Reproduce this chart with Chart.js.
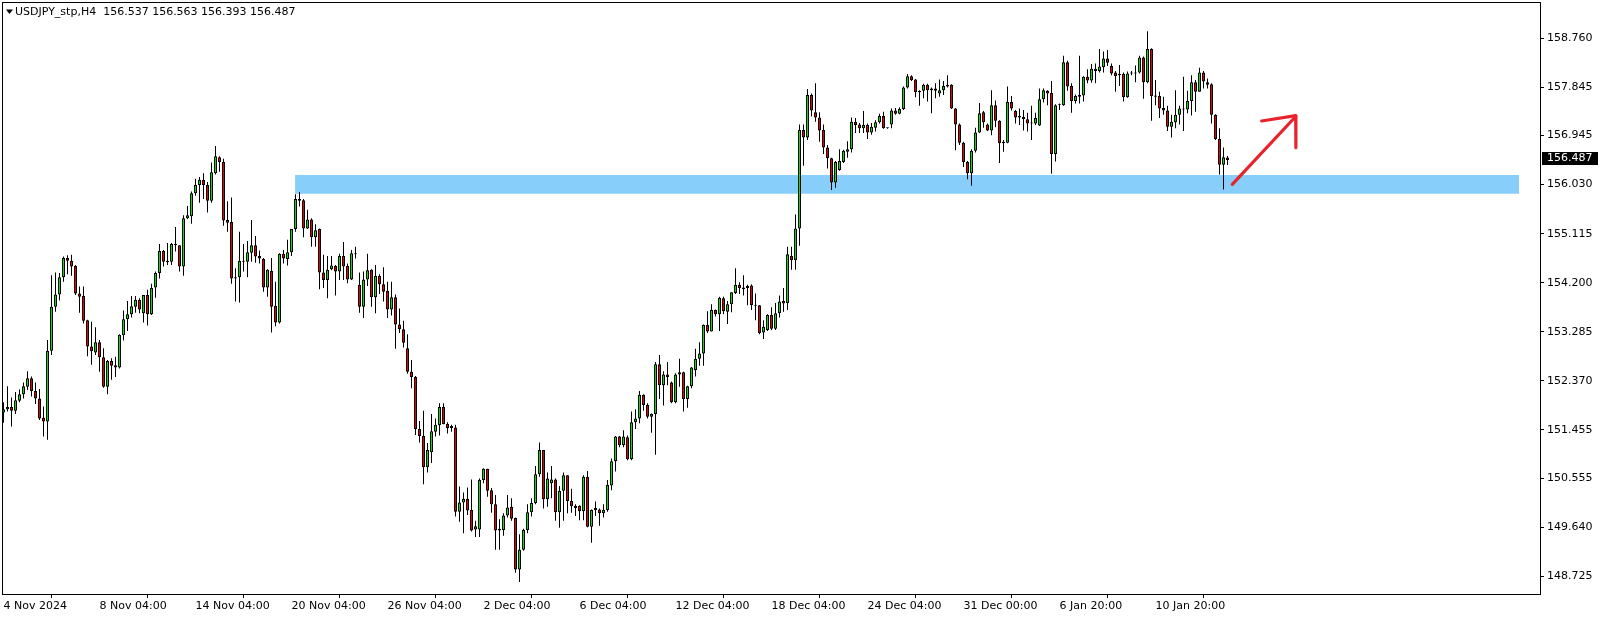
<!DOCTYPE html>
<html><head><meta charset="utf-8">
<script src="https://cdn.jsdelivr.net/npm/chart.js@4.4.1/dist/chart.umd.min.js"></script>
<style>html,body{margin:0;padding:0;background:#fff;overflow:hidden}canvas{display:block}</style>
</head><body>
<canvas id="c" width="1604" height="619"></canvas>
<script>
const symbolName = 'USDJPY_stp,H4';
const opens = [
151.78,151.84,151.88,151.81,152.00,152.12,152.26,152.42,152.18,152.04,
151.68,151.61,152.93,153.75,153.98,154.30,154.66,154.61,154.51,154.00,
153.95,153.50,153.01,152.90,153.09,152.81,152.26,152.74,152.66,152.62,
153.22,153.52,153.61,153.75,153.88,153.63,153.97,153.61,154.11,154.38,
154.79,154.61,154.59,154.92,154.90,154.50,155.40,155.44,155.87,156.02,
156.12,156.02,155.73,156.24,156.54,156.45,155.37,155.33,154.30,154.30,
154.59,154.59,154.76,154.90,154.70,154.64,154.11,154.42,153.77,153.46,
154.74,154.64,154.77,155.20,155.76,155.74,155.21,155.38,155.05,155.20,
154.39,154.25,154.45,154.51,154.41,154.70,154.51,154.26,154.75,154.16,
153.75,154.26,154.44,153.93,154.33,154.17,154.05,153.70,153.93,153.42,
153.33,152.98,152.54,152.44,151.47,151.34,150.76,151.04,151.42,151.54,
151.88,151.57,151.49,151.50,149.93,150.10,150.17,149.96,149.60,149.60,
150.52,150.73,150.33,150.07,149.58,149.59,149.86,150.02,149.81,148.85,
149.22,149.59,149.92,150.09,150.63,151.08,150.16,150.46,150.53,149.92,
150.32,150.61,150.13,150.04,150.04,149.94,150.58,149.65,149.96,149.97,
149.90,149.96,150.42,150.87,151.33,151.17,151.32,150.91,151.60,151.67,
152.11,151.92,151.70,151.75,152.68,152.29,152.49,152.34,151.97,152.49,
152.53,152.03,152.27,152.57,152.78,152.88,153.41,153.29,153.69,153.61,
153.91,153.66,153.80,154.01,154.16,154.08,154.10,154.15,153.78,153.78,
153.27,153.32,153.60,153.34,153.63,153.86,153.82,154.70,154.62,155.21,
157.05,156.91,157.70,157.38,157.28,157.05,156.72,156.52,156.07,156.30,
156.45,156.64,156.69,157.20,157.15,157.08,157.14,157.00,157.09,157.19,
157.31,157.08,157.15,157.41,157.35,157.44,157.84,158.05,157.99,157.78,
157.78,157.89,157.82,157.82,157.73,157.79,157.89,157.89,157.45,157.15,
156.81,156.45,156.24,156.66,157.00,157.38,157.15,157.04,157.51,157.22,
156.83,156.81,157.57,157.40,157.31,157.29,157.25,157.17,157.17,157.13,
157.62,157.78,157.74,156.60,157.51,157.51,158.31,157.87,157.59,157.67,
157.69,158.04,157.97,158.15,158.15,158.22,158.38,158.24,158.12,158.09,
158.09,157.66,158.10,158.12,158.12,158.40,157.94,158.56,157.69,157.68,
157.46,157.41,157.11,157.19,157.33,157.45,157.43,157.59,157.94,157.76,
158.12,157.94,157.90,157.33,156.88,156.40,156.537];
const highs = [
151.97,152.27,152.06,152.16,152.21,152.34,152.55,152.45,152.34,152.22,
151.89,153.13,154.34,154.39,154.38,154.69,154.71,154.72,154.53,154.13,
154.13,153.51,153.47,153.37,153.13,152.98,152.76,152.79,152.82,153.24,
153.68,153.86,153.95,153.95,153.91,153.97,154.07,154.18,154.41,154.92,
154.81,154.94,154.94,155.24,154.90,155.46,155.63,155.90,156.14,156.17,
156.24,156.08,156.44,156.75,156.56,156.51,155.72,155.79,154.47,155.15,
154.92,154.98,155.37,155.07,154.80,154.66,154.45,154.66,154.22,154.75,
154.81,155.00,155.20,155.85,155.89,155.76,155.56,155.40,155.29,155.21,
154.72,154.70,154.70,154.53,154.74,154.96,154.56,154.81,154.87,154.39,
154.41,154.74,154.45,154.53,154.36,154.49,154.22,154.22,153.98,153.72,
153.49,153.24,152.76,152.46,151.62,151.81,151.21,151.75,151.67,151.95,
151.95,151.60,151.55,151.55,150.40,150.29,150.38,150.53,149.76,150.55,
150.74,150.73,150.37,150.24,149.79,149.90,150.24,150.18,149.82,149.51,
149.61,150.07,150.18,150.78,151.22,151.08,150.66,150.78,150.55,150.41,
150.66,150.61,150.36,150.07,150.05,150.61,150.69,149.97,150.12,149.99,
150.07,150.52,150.92,151.34,151.34,151.45,151.35,151.80,151.84,152.18,
152.12,151.95,151.76,152.72,152.85,152.55,152.72,152.36,152.51,152.78,
152.54,152.28,152.63,152.97,153.09,153.42,153.67,153.80,153.70,153.94,
153.94,153.86,154.02,154.47,154.21,154.34,154.16,154.17,154.00,153.78,
153.50,153.61,153.74,153.82,153.96,154.10,154.87,154.87,155.47,157.15,
157.15,157.81,157.73,157.92,157.38,157.15,156.77,156.53,156.47,156.69,
156.68,156.84,157.28,157.27,157.18,157.40,157.17,157.18,157.23,157.35,
157.39,157.09,157.45,157.46,157.47,157.86,158.09,158.07,158.00,157.79,
157.91,157.91,157.84,157.92,157.99,157.96,158.07,157.90,157.46,157.17,
156.83,156.47,156.69,157.09,157.55,157.40,157.17,157.79,157.60,157.23,
156.86,157.86,157.68,157.42,157.45,157.42,157.37,157.50,157.37,157.82,
157.82,157.79,157.96,157.53,157.54,158.43,158.34,157.92,157.71,158.43,
158.05,158.18,158.28,158.29,158.56,158.51,158.54,158.29,158.15,158.26,
158.12,158.14,158.15,158.25,158.43,158.42,158.89,158.57,157.98,157.76,
157.67,157.50,157.33,157.79,157.50,158.04,157.78,158.07,157.98,158.21,
158.15,158.01,157.92,157.34,157.08,156.72,156.563];
const lows = [
151.59,151.80,151.52,151.75,151.97,152.04,152.20,152.08,151.94,151.64,
151.33,151.27,152.85,153.66,153.87,154.22,154.36,154.33,153.97,153.64,
153.44,152.83,152.67,152.85,152.54,152.24,152.12,152.39,152.44,152.60,
153.12,153.30,153.55,153.64,153.63,153.46,153.40,153.60,153.92,154.28,
154.50,154.53,154.53,154.78,154.41,154.33,155.39,155.30,155.82,155.69,
155.76,155.51,155.69,156.22,156.27,155.26,155.15,154.18,153.85,153.83,
154.41,154.30,154.59,154.57,154.56,154.03,153.94,153.27,153.39,153.44,
154.56,154.52,154.70,155.15,155.62,155.05,155.20,154.87,154.87,154.08,
154.10,153.91,154.43,153.96,154.25,154.25,154.19,154.25,154.65,153.64,
153.54,154.14,153.75,153.63,153.99,153.85,153.54,153.59,152.97,153.26,
152.99,152.50,152.23,151.36,151.22,150.44,150.66,150.84,151.33,151.35,
151.56,151.39,151.42,149.84,149.74,149.53,149.87,149.56,149.46,149.46,
150.46,150.21,149.91,149.22,149.22,149.48,149.82,149.76,148.79,148.62,
149.20,149.53,149.84,150.07,150.58,149.99,150.02,150.18,149.76,149.63,
149.76,149.90,149.91,149.85,149.77,149.77,149.64,149.35,149.85,149.67,
149.82,149.93,150.33,150.68,151.13,151.13,150.89,150.89,151.47,151.58,
151.81,151.67,151.40,150.99,152.03,151.91,152.29,151.95,151.95,152.26,
151.80,151.87,152.23,152.45,152.65,152.65,153.26,153.29,153.57,153.30,
153.61,153.43,153.65,153.99,153.99,153.96,153.78,153.69,153.50,153.24,
153.15,153.30,153.32,153.32,153.55,153.66,153.69,154.44,154.44,154.89,
156.38,156.86,157.30,157.20,156.83,156.60,156.33,155.93,155.97,156.29,
156.43,156.53,156.63,156.99,156.99,156.99,156.88,156.96,157.02,157.17,
157.07,157.07,157.08,157.33,157.34,157.42,157.82,157.96,157.66,157.50,
157.64,157.58,157.36,157.64,157.67,157.70,157.84,157.44,156.67,156.77,
156.36,156.13,156.01,156.63,156.99,157.09,157.03,156.95,157.10,156.43,
156.64,156.80,157.41,157.17,157.14,157.04,157.02,156.86,157.14,157.12,
157.56,157.51,156.23,156.46,157.42,157.50,157.78,157.37,157.54,157.54,
157.58,157.92,157.93,157.92,158.12,158.12,158.24,158.07,157.76,157.87,
157.58,157.65,158.07,157.94,158.10,157.63,157.92,157.22,157.51,157.27,
157.33,157.03,156.91,157.08,157.15,157.03,157.36,157.32,157.39,157.76,
157.82,157.82,157.17,156.86,156.22,155.94,156.393];
const closes = [
151.84,151.88,151.81,152.01,152.12,152.27,152.42,152.18,152.04,151.67,
151.61,152.93,153.75,153.98,154.30,154.66,154.61,154.50,154.00,153.94,
153.49,153.01,152.92,153.09,152.81,152.26,152.74,152.65,152.62,153.23,
153.52,153.61,153.76,153.88,153.70,153.97,153.61,154.10,154.38,154.79,
154.59,154.58,154.92,154.90,154.50,155.40,155.46,155.87,156.02,156.12,
156.02,155.73,156.26,156.56,156.45,155.36,155.32,154.28,154.28,154.61,
154.61,154.77,154.90,154.69,154.65,154.11,154.44,153.75,153.46,154.74,
154.65,154.77,155.20,155.76,155.73,155.21,155.38,155.05,155.18,154.39,
154.25,154.44,154.52,154.41,154.70,154.50,154.26,154.75,154.73,153.75,
154.26,154.43,153.93,154.33,154.17,154.03,153.70,153.93,153.42,153.33,
153.08,152.54,152.44,151.47,151.34,150.76,151.08,151.43,151.55,151.88,
151.56,151.49,151.53,149.93,150.10,150.17,149.95,149.58,149.66,150.52,
150.73,150.32,150.07,149.58,149.61,149.86,150.01,149.80,148.85,149.22,
149.59,149.92,150.09,150.63,151.08,150.16,150.55,150.53,149.92,150.32,
150.61,150.13,150.03,150.00,149.94,150.58,149.65,149.96,150.00,149.90,
149.96,150.43,150.87,151.33,151.17,151.33,150.91,151.60,151.67,152.11,
151.92,151.70,151.75,152.68,152.29,152.49,152.44,151.97,152.49,152.53,
152.03,152.27,152.62,152.78,152.88,153.41,153.29,153.69,153.61,153.92,
153.67,153.80,154.02,154.16,154.10,154.11,154.14,153.78,153.77,153.26,
153.38,153.60,153.34,153.63,153.85,153.81,154.73,154.62,155.21,157.05,
156.91,157.70,157.41,157.28,157.04,156.72,156.52,156.07,156.45,156.47,
156.66,156.69,157.20,157.14,157.08,157.14,157.00,157.11,157.19,157.31,
157.08,157.08,157.41,157.35,157.44,157.84,158.05,157.98,157.75,157.75,
157.89,157.79,157.79,157.78,157.79,157.87,157.86,157.45,157.15,156.81,
156.45,156.24,156.66,157.00,157.36,157.19,157.04,157.51,157.22,156.80,
156.80,157.57,157.45,157.28,157.28,157.25,157.17,157.17,157.27,157.62,
157.79,157.73,156.60,157.51,157.51,158.31,157.86,157.59,157.68,157.70,
158.04,157.97,158.19,158.19,158.23,158.38,158.30,158.10,158.05,158.07,
157.66,158.10,158.10,158.10,158.40,157.94,158.56,157.68,157.67,157.45,
157.41,157.11,157.20,157.33,157.45,157.43,157.59,157.94,157.76,158.12,
157.95,157.89,157.33,156.88,156.40,156.54,156.487];

const xTickIndex = [0,24,48,72,96,120,144,168,192,216,240,264,288];
const xTickLabels = ['4 Nov 2024','8 Nov 04:00','14 Nov 04:00','20 Nov 04:00','26 Nov 04:00','2 Dec 04:00','6 Dec 04:00','12 Dec 04:00','18 Dec 04:00','24 Dec 04:00','31 Dec 00:00','6 Jan 20:00','10 Jan 20:00'];
const yTickValues = [158.760,157.845,156.945,156.030,155.115,154.200,153.285,152.370,151.455,150.555,149.640,148.725];

const zoneBars = [72.9, 378.9];
const zonePrices = [156.21, 155.86];
const arrowShaft = [[307.2,156.035],[323.05,157.30]];
const arrowHead = [[314.55,157.216],[323.05,157.315],[323.1,156.719]];

const UP = '#00e600', DOWN = '#e60000', ZONE = '#87cefa', ARROW = '#e8232b';
const FONT = '"DejaVu Sans", Verdana, sans-serif';
Chart.defaults.font.family = FONT;
Chart.defaults.font.size = 11;
Chart.defaults.color = '#000';

const idx = closes.map((_, i) => i);
const pts = arr => arr.map(p => ({x: p[0], y: p[1]}));

const framePlugin = {
  id: 'frame',
  afterDraw(chart) {
    const {ctx, chartArea: a} = chart;
    ctx.save();
    ctx.strokeStyle = '#000';
    ctx.lineWidth = 1;
    ctx.strokeRect(a.left - 0.5, a.top - 0.5, a.right - a.left + 1, a.bottom - a.top + 1);
    ctx.restore();
  }
};
const titlePlugin = {
  id: 'titleText',
  afterDraw(chart) {
    const {ctx, chartArea: a} = chart;
    const L = closes.length - 1;
    const txt = symbolName + '  ' + [opens[L], highs[L], lows[L], closes[L]].map(v => v.toFixed(3)).join(' ');
    ctx.save();
    ctx.fillStyle = '#000';
    ctx.beginPath();
    ctx.moveTo(a.left + 3, a.top + 6.5);
    ctx.lineTo(a.left + 10, a.top + 6.5);
    ctx.lineTo(a.left + 6.5, a.top + 11);
    ctx.closePath();
    ctx.fill();
    ctx.font = '11px ' + FONT;
    ctx.textBaseline = 'middle';
    ctx.textAlign = 'left';
    ctx.fillText(txt, a.left + 12, a.top + 9.5);
    ctx.restore();
  }
};
const priceTagPlugin = {
  id: 'priceTag',
  afterDraw(chart) {
    const {ctx, chartArea: a} = chart;
    const y = chart.scales.y;
    const v = closes[closes.length - 1];
    const py = Math.round(y.getPixelForValue(v));
    ctx.save();
    ctx.fillStyle = '#000';
    ctx.fillRect(a.right + 2, py - 8, 56, 13);
    ctx.fillStyle = '#fff';
    ctx.font = '11px ' + FONT;
    ctx.textBaseline = 'middle';
    ctx.textAlign = 'left';
    ctx.fillText(v.toFixed(3), a.right + 7, py - 1.5);
    ctx.restore();
  }
};

new Chart(document.getElementById('c'), {
  type: 'bar',
  data: {
    datasets: [
      {
        type: 'bar',
        data: idx.map(i => ({x: i, y: [lows[i], highs[i]]})),
        backgroundColor: '#000', borderWidth: 0, barThickness: 1,
        grouped: false, inflateAmount: 0, order: 2
      },
      {
        type: 'bar',
        data: idx.map(i => ({x: i, y: [opens[i], closes[i]]})),
        backgroundColor: idx.map(i => closes[i] >= opens[i] ? UP : DOWN),
        borderColor: '#000', borderWidth: 1, borderSkipped: false,
        barThickness: 3, grouped: false, minBarLength: 1, inflateAmount: 0, order: 1
      },
      {
        type: 'line',
        data: zoneBars.map(x => ({x, y: zonePrices[0]})),
        borderColor: 'rgba(0,0,0,0)', borderWidth: 0, pointRadius: 0,
        backgroundColor: ZONE, fill: '+1', order: 5
      },
      {
        type: 'line',
        data: zoneBars.map(x => ({x, y: zonePrices[1]})),
        borderColor: 'rgba(0,0,0,0)', borderWidth: 0, pointRadius: 0,
        fill: false, order: 6
      },
      {
        type: 'line', data: pts(arrowShaft),
        borderColor: ARROW, borderWidth: 3.2, pointRadius: 0, fill: false,
        borderCapStyle: 'round', borderJoinStyle: 'round', order: 0
      },
      {
        type: 'line', data: pts(arrowHead),
        borderColor: ARROW, borderWidth: 3.2, pointRadius: 0, fill: false,
        borderCapStyle: 'round', borderJoinStyle: 'round', order: 0
      }
    ]
  },
  options: {
    responsive: false,
    animation: false,
    events: [],
    layout: {padding: {left: 3, top: 3, right: 0, bottom: 0}},
    plugins: {legend: {display: false}, tooltip: {enabled: false}},
    scales: {
      x: {
        type: 'linear', position: 'bottom', min: -0.125, max: 384.125, offset: false,
        afterBuildTicks: s => { s.ticks = xTickIndex.map(v => ({value: v})); },
        ticks: {autoSkip: false, maxRotation: 0, minRotation: 0, align: 'start', padding: 2,
                callback: (v, i) => xTickLabels[i]},
        grid: {display: true, drawOnChartArea: false, drawTicks: true, tickLength: 4, color: '#000'},
        border: {display: false},
        afterFit: s => { s.height = 25; s.paddingLeft = 0; s.paddingRight = 0; }
      },
      y: {
        type: 'linear', position: 'right', min: 148.395, max: 159.416,
        afterBuildTicks: s => { s.ticks = yTickValues.map(v => ({value: v})); },
        ticks: {autoSkip: false, padding: 3, callback: v => Number(v).toFixed(3)},
        grid: {display: true, drawOnChartArea: false, drawTicks: true, tickLength: 4, color: '#000'},
        border: {display: false},
        afterFit: s => { s.width = 64; s.paddingTop = 0; s.paddingBottom = 0; }
      }
    }
  },
  plugins: [framePlugin, titlePlugin, priceTagPlugin]
});
</script>
</body></html>
